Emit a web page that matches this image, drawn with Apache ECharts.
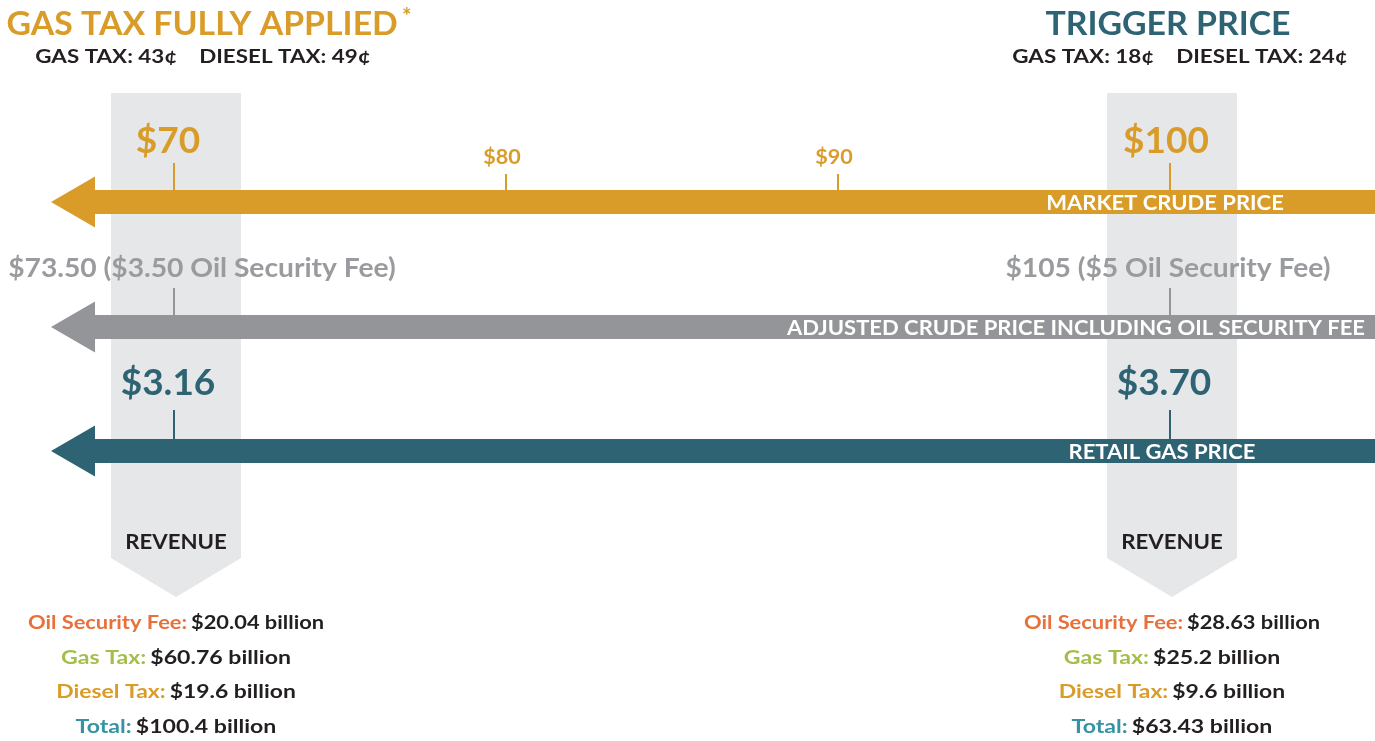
<!DOCTYPE html>
<html>
<head>
<meta charset="utf-8">
<script src="https://cdn.jsdelivr.net/npm/echarts@6/dist/echarts.min.js"></script>
<style>
  html, body { margin: 0; padding: 0; background: #fff; }
  #chart { width: 1375px; height: 741px; }
</style>
</head>
<body>
<div id="chart"></div>
<script>
// data
const scenarioTitles = ['GAS TAX FULLY APPLIED', 'TRIGGER PRICE'];
const scenarioCrude = [70, 100];
const crudeTicks = [70, 80, 90, 100];
const gasTax = [43, 18];
const dieselTax = [49, 24];
const oilSecurityFee = [3.5, 5];
const adjustedCrude = [73.5, 105];
const retailGas = [3.16, 3.70];
const revOilFee = [20.04, 28.63];
const revGasTax = [60.76, 25.2];
const revDieselTax = [19.6, 9.6];
const revTotal = [100.4, 63.43];
const arrowNames = ['MARKET CRUDE PRICE', 'ADJUSTED CRUDE PRICE INCLUDING OIL SECURITY FEE', 'RETAIL GAS PRICE'];

// layout (rows are in the 0..741 vertical scale)
const FONT = 'Lato, "Noto Sans", sans-serif';
const colors = {
  gold: '#d99c29',
  gray: '#939598',
  teal: '#2e6374',
  panel: '#e6e7e8',
  dark: '#231f20',
  orange: '#e8703a',
  green: '#a3bf4a',
  blue: '#3593a3'
};
const arrowColors = [colors.gold, colors.gray, colors.teal];
const arrowRows = [202, 327, 451];
const headerCenter = [209, 1168];
const subCenter = [203, 1180];

const money = (v) => '$' + (Number.isInteger(v) ? v : v.toFixed(2));

// Lato is narrower than the original face, so text gets a horizontal stretch
const label = (x, y, text, fill, font, sx, align) => ({
  type: 'text', x: x, y: y, scaleX: sx || 1,
  style: { text: text, fill: fill, font: font, align: align || 'center', verticalAlign: 'middle' }
});

const chart = echarts.init(document.getElementById('chart'));

const option = {
  animation: false,
  grid: { left: 0, right: 0, top: 0, bottom: 0 },
  xAxis: { type: 'value', min: 64.759, max: 106.175, show: false },
  yAxis: { type: 'value', min: 0, max: 741, inverse: true, show: false },
  series: [
    {
      // grey scenario columns with revenue chevron
      type: 'custom',
      name: 'panels',
      data: scenarioCrude.map((v) => [v]),
      renderItem: (params, api) => {
        const x = api.coord([api.value(0), 0])[0];
        const top = api.coord([0, 93])[1];
        const body = api.coord([0, 558])[1];
        const tip = api.coord([0, 597])[1];
        return {
          type: 'polygon',
          shape: { points: [[x - 63, top], [x + 67, top], [x + 67, body], [x + 2, tip], [x - 63, body]] },
          style: { fill: colors.panel }
        };
      },
      z: 1
    },
    {
      type: 'custom',
      name: 'arrows',
      data: arrowNames.map((n, i) => [i]),
      renderItem: (params, api) => {
        const i = api.value(0);
        const cs = params.coordSys;
        const yc = api.coord([0, arrowRows[i]])[1];
        const x0 = cs.x + 51;
        const xh = cs.x + 95;
        const x1 = cs.x + cs.width;
        const pts = [[x0, yc], [xh, yc - 25.5], [xh, yc - 12], [x1, yc - 12], [x1, yc + 12], [xh, yc + 12], [xh, yc + 25.5]];
        let tx, align;
        if (i === 1) { tx = x1 - 10; align = 'right'; }
        else { tx = api.coord([100, 0])[0] - (i === 0 ? 5 : 8); align = 'center'; }
        return {
          type: 'group',
          children: [
            { type: 'polygon', shape: { points: pts }, style: { fill: arrowColors[i] } },
            label(tx, yc + 1.5, arrowNames[i], '#fff', 'bold 20px ' + FONT, 1.1, align)
          ]
        };
      },
      z: 2
    },
    {
      type: 'custom',
      name: 'ticks',
      data: crudeTicks.map((v) => [v]),
      renderItem: (params, api) => {
        const v = api.value(0);
        const major = scenarioCrude.indexOf(v) >= 0;
        const x = api.coord([v, 0])[0];
        const children = [
          { type: 'line', shape: { x1: x, y1: api.coord([0, major ? 163 : 174])[1], x2: x, y2: api.coord([0, 190])[1] }, style: { stroke: colors.gold, lineWidth: 2 } }
        ];
        if (!major) {
          children.push(label(x - 4, api.coord([0, 158])[1], money(v), colors.gold, 'bold 20px ' + FONT, 1.08));
        } else {
          children.push({ type: 'line', shape: { x1: x, y1: api.coord([0, 288])[1], x2: x, y2: api.coord([0, 315])[1] }, style: { stroke: colors.gray, lineWidth: 2 } });
          children.push({ type: 'line', shape: { x1: x, y1: api.coord([0, 410])[1], x2: x, y2: api.coord([0, 439])[1] }, style: { stroke: colors.teal, lineWidth: 2 } });
        }
        return { type: 'group', children: children };
      },
      z: 3
    },
    {
      type: 'custom',
      name: 'scenario labels',
      data: scenarioCrude.map((v, i) => [v, i]),
      renderItem: (params, api) => {
        const v = api.value(0);
        const i = api.value(1);
        const x = api.coord([v, 0])[0];
        const y = (r) => api.coord([0, r])[1];
        const revLine = (ty, name, lc, val, sx) => ({
          type: 'text', x: x + 2, y: ty, scaleX: sx,
          style: {
            text: '{a|' + name + ':} {b|$' + val + ' billion}',
            align: 'center', verticalAlign: 'middle',
            rich: {
              a: { fill: lc, font: 'bold 19px ' + FONT },
              b: { fill: colors.dark, font: 'bold 19px ' + FONT }
            }
          }
        });
        const children = [
          {
            type: 'text', x: headerCenter[i], y: y(24), scaleX: i === 0 ? 1.025 : 1.025,
            style: {
              text: '{t|' + scenarioTitles[i] + '}' + (i === 0 ? '{s|*}' : ''),
              align: 'center', verticalAlign: 'middle',
              rich: {
                t: { fill: i === 0 ? colors.gold : colors.teal, font: 'bold 33px ' + FONT, lineHeight: 36 },
                s: { fill: colors.gold, font: 'bold 22px ' + FONT, verticalAlign: 'top', lineHeight: 36, padding: [0, 0, 12, 4] }
              }
            }
          },
          label(subCenter[i], y(57), 'GAS TAX: ' + gasTax[i] + '¢    DIESEL TAX: ' + dieselTax[i] + '¢', colors.dark, 'bold 19px ' + FONT, 1.18),
          label(x - 6 + (i === 1 ? 2 : 0), y(141), money(v), colors.gold, 'bold 37px ' + FONT),
          label(x + 28 - (i === 1 ? 30 : 0), y(269), money(adjustedCrude[i]) + ' (' + money(oilSecurityFee[i]) + ' Oil Security Fee)', '#999b9e', 'bold 26px ' + FONT, 1.085),
          label(x - 6, y(383), '$' + retailGas[i].toFixed(2), colors.teal, 'bold 37px ' + FONT),
          label(x + 2, y(543), 'REVENUE', colors.dark, 'bold 20px ' + FONT, 1.11),
          revLine(y(623), 'Oil Security Fee', colors.orange, revOilFee[i], 1.15),
          revLine(y(658), 'Gas Tax', colors.green, revGasTax[i], 1.215),
          revLine(y(692), 'Diesel Tax', colors.gold, revDieselTax[i], 1.205),
          revLine(y(727), 'Total', colors.blue, revTotal[i], 1.215)
        ];
        return { type: 'group', children: children };
      },
      z: 4
    }
  ]
};

chart.setOption(option);
window.addEventListener('resize', () => chart.resize());
</script>
</body>
</html>
